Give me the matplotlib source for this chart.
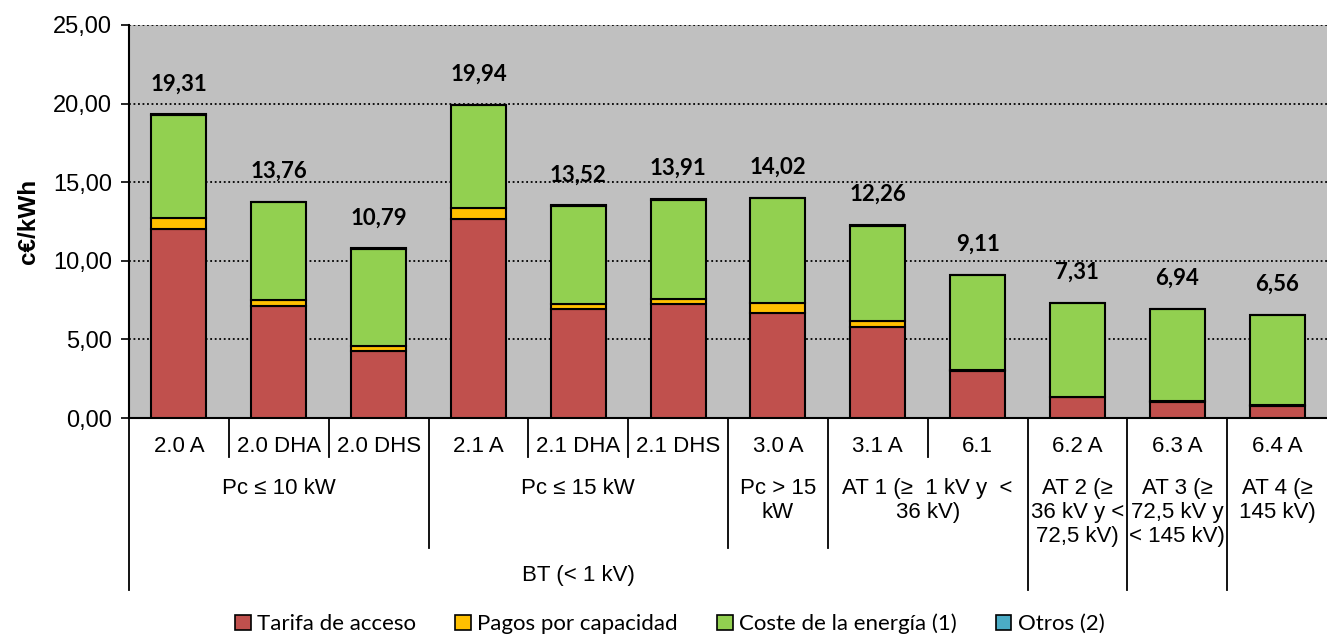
import numpy as np
import matplotlib
matplotlib.use('Agg')
import matplotlib.pyplot as plt
from matplotlib.patches import Patch

# Data (c€/kWh)
tarifas = ['2.0 A', '2.0 DHA', '2.0 DHS', '2.1 A', '2.1 DHA', '2.1 DHS',
           '3.0 A', '3.1 A', '6.1', '6.2 A', '6.3 A', '6.4 A']
totales = [19.31, 13.76, 10.79, 19.94, 13.52, 13.91, 14.02, 12.26, 9.11, 7.31, 6.94, 6.56]
tarifa_acceso = [12.05, 7.15, 4.28, 12.68, 6.93, 7.23, 6.70, 5.79, 2.97, 1.31, 1.04, 0.76]
pagos_capacidad = [0.67, 0.36, 0.30, 0.68, 0.34, 0.36, 0.62, 0.38, 0.06, 0.04, 0.04, 0.04]
otros = [0.02, 0.02, 0.02, 0.02, 0.02, 0.02, 0.02, 0.02, 0.02, 0.02, 0.02, 0.02]
coste_energia = [t - a - p - o for t, a, p, o in zip(totales, tarifa_acceso, pagos_capacidad, otros)]

# Second and third level of the category axis: (label, first col, last col)
grupos = [('Pc ≤ 10 kW', 0, 2), ('Pc ≤ 15 kW', 3, 5), ('Pc > 15\nkW', 6, 6),
          ('AT 1 (≥  1 kV y  <\n36 kV)', 7, 8), ('AT 2 (≥\n36 kV y <\n72,5 kV)', 9, 9),
          ('AT 3 (≥\n72,5 kV y\n< 145 kV)', 10, 10), ('AT 4 (≥\n145 kV)', 11, 11)]
niveles = [('BT (< 1 kV)', 0, 8)]

series = ['Tarifa de acceso', 'Pagos por capacidad', 'Coste de la energía (1)', 'Otros (2)']
colores = ['#C0504D', '#FFC000', '#92D050', '#4BACC6']

W, H = 1327, 639
fig = plt.figure(figsize=(W / 100, H / 100), dpi=100)
ax = fig.add_axes([129 / W, (H - 418) / H, 1198 / W, 393 / H])
ax.set_facecolor('#C0C0C0')

x = np.arange(len(tarifas))
bottom = np.zeros(len(tarifas))
for vals, col in zip([tarifa_acceso, pagos_capacidad, coste_energia, otros], colores):
    ax.bar(x, vals, 0.55, bottom=bottom, color=col, edgecolor='black', linewidth=1.5, zorder=3)
    bottom += np.array(vals)

for xi, t in zip(x, totales):
    ax.text(xi, t + 1.95, f'{t:.2f}'.replace('.', ','), ha='center', va='center',
            fontsize=16, fontweight='bold', family='Lato', zorder=4)

ax.set_xlim(-0.5, 11.5)
ax.set_ylim(0, 25)
ax.set_yticks(np.arange(0, 26, 5))
ax.set_yticklabels([f'{v:.2f}'.replace('.', ',') for v in np.arange(0, 26, 5)],
                   family='Liberation Sans', fontsize=17)
ax.yaxis.grid(True, color='black', linestyle=(0, (1, 1.5)), linewidth=1.3, zorder=1)
ax.tick_params(axis='y', length=6, width=1.2, pad=6)
ax.set_xticks([])
ax.set_ylabel('c€/kWh', fontsize=17.5, fontweight='bold', family='Liberation Sans')
ax.yaxis.set_label_coords(-0.074, 0.5)
for s in ['top', 'right']:
    ax.spines[s].set_visible(False)
ax.spines['left'].set_linewidth(1.5)
ax.spines['bottom'].set_linewidth(1.5)

# multi-level category axis
tr = ax.get_xaxis_transform()
px = 1 / 393.0
def vline(xp, depth):
    ax.plot([xp, xp], [0, -depth * px], color='black', lw=1.3, transform=tr, clip_on=False)

for b in [0.5, 1.5, 3.5, 4.5, 7.5]:
    vline(b, 39)
for b in [2.5, 5.5, 6.5]:
    vline(b, 130)
for b in [-0.5, 8.5, 9.5, 10.5]:
    vline(b, 172)

for xi, lab in zip(x, tarifas):
    ax.text(xi, -28 * px, lab, ha='center', va='center', fontsize=16,
            family='Liberation Sans', transform=tr)
for lab, a, b in grupos:
    ax.text((a + b) / 2, -60 * px, lab, ha='center', va='top', fontsize=16,
            family='Liberation Sans', linespacing=1.2, transform=tr)
for lab, a, b in niveles:
    ax.text((a + b) / 2, -158 * px, lab, ha='center', va='center', fontsize=16,
            family='Liberation Sans', transform=tr)

handles = [Patch(facecolor=c, edgecolor='black', linewidth=1.2) for c in colores]
fig.legend(handles, series, loc='center', bbox_to_anchor=(670 / W, 1 - 624 / H), ncol=4,
           frameon=False, prop={'family': 'Lato', 'size': 16}, handlelength=0.7,
           handleheight=0.7, handletextpad=0.3, columnspacing=1.75)

fig.savefig('out.png', dpi=100)
